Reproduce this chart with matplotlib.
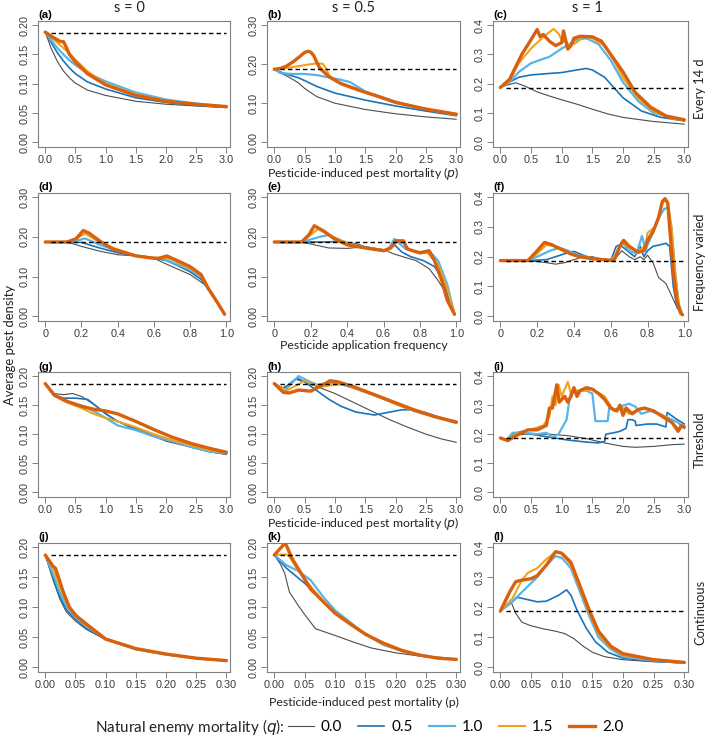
import matplotlib
matplotlib.use("Agg")
import matplotlib.pyplot as plt
from matplotlib.lines import Line2D

# ---------------- data ----------------
q_levels = ["0.0", "0.5", "1.0", "1.5", "2.0"]
baseline = 0.187
col_titles = ["s = 0", "s = 0.5", "s = 1"]
row_titles = ["Every 14 d", "Frequency varied", "Threshold", "Continuous"]
panel_tags = ["(a)", "(b)", "(c)", "(d)", "(e)", "(f)", "(g)", "(h)", "(i)", "(j)", "(k)", "(l)"]

# (a)
a_q00_x = [0, 0.1, 0.2, 0.3, 0.4, 0.5, 0.7, 1.0, 1.5, 2.0, 2.5, 3.0]
a_q00_y = [0.188, 0.160, 0.138, 0.122, 0.110, 0.101, 0.089, 0.080, 0.070, 0.065, 0.062, 0.059]
a_q05_x = [0, 0.1, 0.2, 0.3, 0.4, 0.5, 0.7, 1.0, 1.5, 2.0, 2.5, 3.0]
a_q05_y = [0.188, 0.170, 0.153, 0.139, 0.127, 0.117, 0.103, 0.091, 0.076, 0.068, 0.063, 0.060]
a_q10_x = [0, 0.1, 0.2, 0.3, 0.4, 0.5, 0.7, 1.0, 1.5, 2.0, 2.5, 3.0]
a_q10_y = [0.188, 0.174, 0.161, 0.150, 0.140, 0.132, 0.118, 0.104, 0.085, 0.073, 0.066, 0.061]
a_q15_x = [0, 0.1, 0.2, 0.3, 0.4, 0.5, 0.7, 1.0, 1.5, 2.0, 2.5, 3.0]
a_q15_y = [0.188, 0.179, 0.170, 0.161, 0.152, 0.141, 0.121, 0.100, 0.082, 0.071, 0.065, 0.060]
a_q20_x = [0, 0.1, 0.2, 0.25, 0.3, 0.35, 0.4, 0.5, 0.7, 1.0, 1.5, 2.0, 2.5, 3.0]
a_q20_y = [0.188, 0.181, 0.175, 0.172, 0.172, 0.162, 0.150, 0.137, 0.117, 0.098, 0.080, 0.070, 0.065, 0.061]

# (b)
b_q00_x = [0, 0.1, 0.25, 0.4, 0.5, 0.7, 1.0, 1.5, 2.0, 2.5, 3.0]
b_q00_y = [0.187, 0.178, 0.166, 0.152, 0.138, 0.117, 0.100, 0.084, 0.073, 0.065, 0.059]
b_q05_x = [0, 0.1, 0.25, 0.4, 0.5, 0.7, 1.0, 1.5, 2.0, 2.5, 3.0]
b_q05_y = [0.187, 0.180, 0.172, 0.165, 0.158, 0.143, 0.126, 0.108, 0.093, 0.080, 0.068]
b_q10_x = [0, 0.1, 0.3, 0.5, 0.7, 0.9, 1.1, 1.25, 1.5, 2.0, 2.5, 3.0]
b_q10_y = [0.187, 0.177, 0.175, 0.175, 0.172, 0.166, 0.160, 0.154, 0.130, 0.104, 0.085, 0.070]
b_q15_x = [0, 0.2, 0.4, 0.6, 0.7, 0.8, 0.85, 0.9, 1.0, 1.2, 1.5, 1.7, 2.0, 2.5, 3.0]
b_q15_y = [0.187, 0.190, 0.195, 0.200, 0.202, 0.201, 0.190, 0.172, 0.158, 0.146, 0.128, 0.118, 0.102, 0.085, 0.071]
b_q20_x = [0, 0.1, 0.2, 0.3, 0.4, 0.5, 0.55, 0.6, 0.65, 0.7, 0.75, 0.9, 1.1, 1.4, 1.7, 2.0, 2.5, 3.0]
b_q20_y = [0.187, 0.189, 0.195, 0.205, 0.217, 0.230, 0.233, 0.231, 0.222, 0.205, 0.190, 0.168, 0.150, 0.133, 0.118, 0.102, 0.085, 0.072]

# (c)
c_q00_x = [0, 0.1, 0.25, 0.4, 0.6, 0.8, 1.0, 1.25, 1.5, 1.75, 2.0, 2.5, 3.0]
c_q00_y = [0.187, 0.195, 0.203, 0.192, 0.172, 0.158, 0.145, 0.130, 0.113, 0.097, 0.085, 0.071, 0.062]
c_q05_x = [0, 0.1, 0.3, 0.5, 0.8, 1.0, 1.25, 1.4, 1.5, 1.7, 1.85, 2.0, 2.3, 2.6, 3.0]
c_q05_y = [0.187, 0.200, 0.222, 0.230, 0.235, 0.238, 0.247, 0.252, 0.247, 0.222, 0.187, 0.152, 0.107, 0.086, 0.073]
c_q10_x = [0, 0.15, 0.3, 0.5, 0.8, 1.0, 1.25, 1.4, 1.6, 1.8, 2.0, 2.25, 2.5, 3.0]
c_q10_y = [0.187, 0.205, 0.240, 0.270, 0.292, 0.320, 0.350, 0.355, 0.335, 0.280, 0.205, 0.140, 0.100, 0.075]
c_q15_x = [0, 0.15, 0.3, 0.5, 0.7, 0.87, 0.95, 1.0, 1.1, 1.2, 1.3, 1.35, 1.5, 1.7, 1.85, 2.0, 2.25, 2.5, 2.8, 3.0]
c_q15_y = [0.187, 0.210, 0.270, 0.320, 0.360, 0.387, 0.370, 0.350, 0.335, 0.335, 0.350, 0.362, 0.355, 0.330, 0.280, 0.220, 0.150, 0.105, 0.082, 0.075]
c_q20_x = [0, 0.15, 0.35, 0.5, 0.6, 0.65, 0.7, 0.8, 0.9, 1.0, 1.03, 1.1, 1.15, 1.2, 1.3, 1.5, 1.65, 1.8, 2.0, 2.2, 2.45, 2.7, 3.0]
c_q20_y = [0.187, 0.215, 0.300, 0.350, 0.385, 0.360, 0.368, 0.345, 0.330, 0.340, 0.380, 0.318, 0.330, 0.355, 0.362, 0.360, 0.345, 0.300, 0.240, 0.170, 0.120, 0.090, 0.077]

# (d)
d_q00_x = [0, 0.1, 0.15, 0.2, 0.3, 0.4, 0.5, 0.6, 0.7, 0.8, 0.88, 0.93, 0.97, 0.99]
d_q00_y = [0.187, 0.187, 0.183, 0.176, 0.164, 0.155, 0.152, 0.146, 0.125, 0.105, 0.080, 0.050, 0.020, 0.005]
d_q05_x = [0, 0.12, 0.2, 0.3, 0.4, 0.5, 0.6, 0.67, 0.72, 0.8, 0.86, 0.9, 0.95, 0.99]
d_q05_y = [0.187, 0.187, 0.186, 0.172, 0.160, 0.152, 0.147, 0.140, 0.130, 0.112, 0.093, 0.068, 0.035, 0.005]
d_q10_x = [0, 0.12, 0.17, 0.22, 0.3, 0.4, 0.5, 0.6, 0.65, 0.7, 0.8, 0.86, 0.9, 0.95, 0.99]
d_q10_y = [0.187, 0.187, 0.190, 0.196, 0.180, 0.165, 0.153, 0.147, 0.145, 0.136, 0.117, 0.100, 0.070, 0.035, 0.005]
d_q15_x = [0, 0.12, 0.17, 0.22, 0.3, 0.4, 0.5, 0.6, 0.65, 0.7, 0.8, 0.86, 0.9, 0.95, 0.99]
d_q15_y = [0.187, 0.187, 0.196, 0.208, 0.186, 0.168, 0.153, 0.147, 0.148, 0.143, 0.120, 0.104, 0.070, 0.035, 0.005]
d_q20_x = [0, 0.12, 0.17, 0.21, 0.24, 0.3, 0.37, 0.45, 0.5, 0.6, 0.63, 0.67, 0.73, 0.8, 0.86, 0.9, 0.95, 0.99]
d_q20_y = [0.187, 0.187, 0.195, 0.216, 0.210, 0.190, 0.170, 0.159, 0.152, 0.146, 0.146, 0.152, 0.140, 0.125, 0.105, 0.070, 0.035, 0.005]

# (e)
e_q00_x = [0, 0.15, 0.2, 0.3, 0.4, 0.5, 0.6, 0.65, 0.72, 0.78, 0.85, 0.9, 0.94, 0.97, 0.99]
e_q00_y = [0.187, 0.186, 0.182, 0.172, 0.171, 0.175, 0.168, 0.158, 0.148, 0.140, 0.120, 0.090, 0.060, 0.020, 0.003]
e_q05_x = [0, 0.25, 0.35, 0.45, 0.5, 0.6, 0.64, 0.66, 0.7, 0.75, 0.82, 0.88, 0.93, 0.96, 0.99]
e_q05_y = [0.187, 0.187, 0.188, 0.182, 0.175, 0.165, 0.175, 0.180, 0.162, 0.150, 0.140, 0.125, 0.090, 0.040, 0.005]
e_q10_x = [0, 0.15, 0.25, 0.3, 0.37, 0.45, 0.55, 0.62, 0.66, 0.72, 0.8, 0.85, 0.9, 0.95, 0.99]
e_q10_y = [0.187, 0.187, 0.200, 0.205, 0.190, 0.178, 0.170, 0.165, 0.195, 0.170, 0.160, 0.165, 0.140, 0.080, 0.005]
e_q15_x = [0, 0.15, 0.24, 0.32, 0.4, 0.5, 0.62, 0.67, 0.7, 0.74, 0.8, 0.84, 0.9, 0.95, 0.99]
e_q15_y = [0.187, 0.187, 0.220, 0.200, 0.185, 0.172, 0.165, 0.190, 0.190, 0.168, 0.158, 0.160, 0.130, 0.070, 0.005]
e_q20_x = [0, 0.15, 0.19, 0.22, 0.27, 0.33, 0.4, 0.5, 0.6, 0.64, 0.67, 0.71, 0.73, 0.76, 0.8, 0.85, 0.88, 0.92, 0.95, 0.99]
e_q20_y = [0.187, 0.187, 0.205, 0.228, 0.215, 0.195, 0.180, 0.172, 0.165, 0.172, 0.190, 0.190, 0.170, 0.165, 0.160, 0.165, 0.140, 0.090, 0.040, 0.005]

# (f)
f_q00_x = [0, 0.15, 0.25, 0.3, 0.35, 0.4, 0.45, 0.5, 0.55, 0.6, 0.62, 0.66, 0.7, 0.73, 0.76, 0.78, 0.8, 0.83, 0.86, 0.9, 0.93, 0.96, 0.99]
f_q00_y = [0.187, 0.187, 0.180, 0.175, 0.180, 0.190, 0.200, 0.200, 0.192, 0.187, 0.190, 0.220, 0.200, 0.190, 0.200, 0.190, 0.205, 0.180, 0.130, 0.110, 0.070, 0.030, 0.005]
f_q05_x = [0, 0.15, 0.25, 0.3, 0.35, 0.4, 0.45, 0.5, 0.6, 0.63, 0.65, 0.7, 0.73, 0.76, 0.78, 0.8, 0.83, 0.87, 0.9, 0.92, 0.94, 0.96, 0.99]
f_q05_y = [0.187, 0.187, 0.190, 0.200, 0.210, 0.218, 0.205, 0.195, 0.188, 0.235, 0.240, 0.215, 0.200, 0.235, 0.200, 0.220, 0.235, 0.240, 0.245, 0.235, 0.100, 0.030, 0.005]
f_q10_x = [0, 0.15, 0.2, 0.27, 0.32, 0.37, 0.42, 0.5, 0.6, 0.63, 0.66, 0.7, 0.74, 0.77, 0.79, 0.8, 0.83, 0.86, 0.89, 0.91, 0.93, 0.95, 0.97, 0.99]
f_q10_y = [0.187, 0.187, 0.200, 0.220, 0.230, 0.220, 0.205, 0.195, 0.188, 0.210, 0.250, 0.220, 0.210, 0.270, 0.220, 0.240, 0.280, 0.330, 0.360, 0.365, 0.300, 0.150, 0.040, 0.005]
f_q15_x = [0, 0.15, 0.2, 0.25, 0.3, 0.35, 0.4, 0.5, 0.6, 0.62, 0.66, 0.7, 0.75, 0.79, 0.8, 0.84, 0.87, 0.89, 0.91, 0.93, 0.95, 0.97, 0.99]
f_q15_y = [0.187, 0.187, 0.210, 0.240, 0.235, 0.220, 0.205, 0.195, 0.188, 0.200, 0.250, 0.230, 0.215, 0.240, 0.280, 0.300, 0.360, 0.390, 0.385, 0.300, 0.150, 0.040, 0.005]
f_q20_x = [0, 0.15, 0.2, 0.24, 0.28, 0.33, 0.38, 0.43, 0.5, 0.6, 0.62, 0.65, 0.67, 0.7, 0.75, 0.78, 0.8, 0.83, 0.86, 0.88, 0.895, 0.91, 0.92, 0.94, 0.96, 0.98, 0.99]
f_q20_y = [0.187, 0.187, 0.220, 0.248, 0.240, 0.225, 0.210, 0.200, 0.193, 0.188, 0.190, 0.235, 0.255, 0.235, 0.215, 0.220, 0.255, 0.285, 0.330, 0.385, 0.395, 0.380, 0.300, 0.150, 0.050, 0.010, 0.005]

# (g)
g_q00_x = [0, 0.15, 0.3, 0.45, 0.6, 0.75, 0.95, 1.15, 1.4, 1.7, 2.0, 2.4, 2.7, 3.0]
g_q00_y = [0.187, 0.170, 0.168, 0.170, 0.165, 0.155, 0.140, 0.125, 0.112, 0.100, 0.088, 0.078, 0.070, 0.065]
g_q05_x = [0, 0.15, 0.3, 0.5, 0.7, 0.85, 1.0, 1.2, 1.5, 1.8, 2.1, 2.45, 2.75, 3.0]
g_q05_y = [0.187, 0.168, 0.162, 0.162, 0.160, 0.148, 0.135, 0.122, 0.110, 0.098, 0.088, 0.078, 0.070, 0.066]
g_q10_x = [0, 0.15, 0.3, 0.5, 0.65, 0.8, 1.0, 1.2, 1.5, 1.8, 2.1, 2.45, 2.75, 3.0]
g_q10_y = [0.187, 0.168, 0.158, 0.152, 0.148, 0.140, 0.128, 0.115, 0.107, 0.096, 0.088, 0.077, 0.070, 0.067]
g_q15_x = [0, 0.15, 0.35, 0.6, 0.8, 1.0, 1.2, 1.5, 1.8, 2.1, 2.45, 2.75, 3.0]
g_q15_y = [0.187, 0.167, 0.155, 0.145, 0.135, 0.128, 0.122, 0.112, 0.100, 0.090, 0.080, 0.072, 0.068]
g_q20_x = [0, 0.15, 0.35, 0.6, 0.8, 1.0, 1.2, 1.5, 1.8, 2.1, 2.45, 2.75, 3.0]
g_q20_y = [0.187, 0.167, 0.157, 0.148, 0.143, 0.140, 0.135, 0.122, 0.108, 0.095, 0.083, 0.075, 0.069]

# (h)
h_q00_x = [0, 0.15, 0.3, 0.38, 0.5, 0.75, 1.0, 1.3, 1.6, 1.9, 2.2, 2.5, 2.75, 3.0]
h_q00_y = [0.187, 0.180, 0.190, 0.197, 0.190, 0.180, 0.170, 0.155, 0.140, 0.125, 0.112, 0.100, 0.092, 0.086]
h_q05_x = [0, 0.15, 0.35, 0.5, 0.7, 0.9, 1.1, 1.35, 1.65, 1.9, 2.1, 2.3, 2.5, 2.75, 3.0]
h_q05_y = [0.187, 0.178, 0.195, 0.190, 0.175, 0.160, 0.148, 0.138, 0.133, 0.138, 0.142, 0.142, 0.137, 0.128, 0.120]
h_q10_x = [0, 0.18, 0.4, 0.55, 0.7, 0.9, 1.1, 1.35, 1.7, 2.0, 2.3, 2.7, 3.0]
h_q10_y = [0.187, 0.176, 0.200, 0.192, 0.185, 0.188, 0.186, 0.178, 0.165, 0.152, 0.140, 0.128, 0.119]
h_q15_x = [0, 0.2, 0.35, 0.5, 0.65, 0.8, 1.0, 1.15, 1.35, 1.7, 2.0, 2.3, 2.65, 3.0]
h_q15_y = [0.187, 0.175, 0.183, 0.192, 0.185, 0.182, 0.185, 0.186, 0.178, 0.165, 0.152, 0.140, 0.130, 0.121]
h_q20_x = [0, 0.15, 0.25, 0.4, 0.6, 0.75, 0.92, 1.05, 1.3, 1.65, 2.0, 2.3, 2.65, 3.0]
h_q20_y = [0.187, 0.172, 0.171, 0.176, 0.174, 0.182, 0.192, 0.190, 0.182, 0.168, 0.154, 0.142, 0.130, 0.121]

# (i)
i_q00_x = [0, 0.1, 0.2, 0.4, 0.8, 1.1, 1.4, 1.7, 2.0, 2.2, 2.5, 2.8, 3.0]
i_q00_y = [0.187, 0.180, 0.195, 0.200, 0.200, 0.195, 0.185, 0.170, 0.158, 0.155, 0.158, 0.164, 0.166]
i_q05_x = [0, 0.1, 0.2, 0.35, 0.5, 0.8, 1.1, 1.4, 1.6, 1.7, 1.72, 1.85, 1.95, 2.05, 2.08, 2.15, 2.2, 2.21, 2.4, 2.55, 2.7, 2.72, 2.85, 3.0]
i_q05_y = [0.187, 0.180, 0.200, 0.210, 0.200, 0.190, 0.180, 0.173, 0.170, 0.175, 0.200, 0.205, 0.210, 0.220, 0.250, 0.250, 0.245, 0.230, 0.235, 0.235, 0.225, 0.275, 0.255, 0.235]
i_q10_x = [0, 0.1, 0.2, 0.4, 0.6, 0.75, 0.85, 0.95, 1.0, 1.08, 1.12, 1.15, 1.25, 1.4, 1.5, 1.55, 1.75, 1.78, 1.85, 1.95, 2.1, 2.2, 2.3, 2.45, 2.7, 2.9, 3.0]
i_q10_y = [0.187, 0.180, 0.205, 0.205, 0.200, 0.205, 0.190, 0.200, 0.220, 0.250, 0.310, 0.340, 0.350, 0.350, 0.340, 0.245, 0.245, 0.300, 0.280, 0.295, 0.305, 0.295, 0.270, 0.280, 0.260, 0.240, 0.220]
i_q15_x = [0, 0.1, 0.25, 0.4, 0.55, 0.7, 0.8, 0.85, 0.9, 0.95, 1.0, 1.1, 1.15, 1.3, 1.5, 1.7, 1.85, 2.0, 2.1, 2.3, 2.5, 2.7, 2.9, 3.0]
i_q15_y = [0.187, 0.180, 0.200, 0.210, 0.220, 0.230, 0.260, 0.330, 0.300, 0.370, 0.330, 0.380, 0.340, 0.350, 0.355, 0.330, 0.280, 0.290, 0.270, 0.290, 0.280, 0.260, 0.220, 0.225]
i_q20_x = [0, 0.12, 0.3, 0.45, 0.6, 0.75, 0.8, 0.85, 0.92, 0.96, 1.05, 1.1, 1.15, 1.2, 1.25, 1.3, 1.4, 1.5, 1.6, 1.7, 1.8, 1.9, 1.95, 2.0, 2.05, 2.15, 2.25, 2.35, 2.5, 2.65, 2.8, 2.9, 2.95, 3.0]
i_q20_y = [0.187, 0.178, 0.200, 0.215, 0.215, 0.230, 0.290, 0.290, 0.370, 0.310, 0.330, 0.310, 0.330, 0.360, 0.330, 0.350, 0.360, 0.355, 0.340, 0.320, 0.290, 0.280, 0.300, 0.265, 0.290, 0.270, 0.285, 0.290, 0.280, 0.260, 0.240, 0.210, 0.230, 0.225]

# (j)
j_q00_x = [0, 0.013, 0.024, 0.035, 0.05, 0.068, 0.1, 0.15, 0.2, 0.25, 0.3]
j_q00_y = [0.187, 0.145, 0.114, 0.092, 0.077, 0.063, 0.046, 0.030, 0.021, 0.015, 0.011]
j_q05_x = [0, 0.013, 0.024, 0.035, 0.05, 0.068, 0.1, 0.15, 0.2, 0.25, 0.3]
j_q05_y = [0.187, 0.150, 0.118, 0.096, 0.080, 0.065, 0.046, 0.030, 0.021, 0.015, 0.011]
j_q10_x = [0, 0.013, 0.024, 0.035, 0.05, 0.068, 0.1, 0.15, 0.2, 0.25, 0.3]
j_q10_y = [0.187, 0.155, 0.125, 0.102, 0.083, 0.068, 0.047, 0.030, 0.021, 0.015, 0.011]
j_q15_x = [0, 0.013, 0.024, 0.035, 0.05, 0.068, 0.1, 0.15, 0.2, 0.25, 0.3]
j_q15_y = [0.187, 0.165, 0.135, 0.108, 0.085, 0.070, 0.047, 0.030, 0.021, 0.015, 0.011]
j_q20_x = [0, 0.013, 0.017, 0.03, 0.04, 0.051, 0.068, 0.1, 0.15, 0.2, 0.25, 0.3]
j_q20_y = [0.187, 0.168, 0.165, 0.125, 0.100, 0.086, 0.072, 0.047, 0.031, 0.022, 0.015, 0.011]

# (k)
k_q00_x = [0, 0.01, 0.017, 0.025, 0.04, 0.05, 0.068, 0.1, 0.13, 0.16, 0.2, 0.25, 0.3]
k_q00_y = [0.187, 0.172, 0.157, 0.125, 0.102, 0.088, 0.064, 0.053, 0.042, 0.032, 0.024, 0.017, 0.013]
k_q05_x = [0, 0.02, 0.05, 0.07, 0.09, 0.11, 0.14, 0.17, 0.2, 0.25, 0.3]
k_q05_y = [0.187, 0.165, 0.140, 0.120, 0.100, 0.085, 0.063, 0.044, 0.030, 0.018, 0.013]
k_q10_x = [0, 0.02, 0.04, 0.06, 0.08, 0.1, 0.125, 0.15, 0.18, 0.22, 0.26, 0.3]
k_q10_y = [0.187, 0.170, 0.160, 0.145, 0.118, 0.095, 0.075, 0.055, 0.037, 0.024, 0.017, 0.013]
k_q15_x = [0, 0.02, 0.025, 0.04, 0.06, 0.08, 0.1, 0.125, 0.15, 0.18, 0.22, 0.26, 0.3]
k_q15_y = [0.187, 0.188, 0.184, 0.160, 0.135, 0.110, 0.091, 0.073, 0.055, 0.038, 0.024, 0.017, 0.013]
k_q20_x = [0, 0.01, 0.018, 0.03, 0.045, 0.06, 0.08, 0.1, 0.125, 0.15, 0.18, 0.21, 0.24, 0.27, 0.3]
k_q20_y = [0.187, 0.198, 0.207, 0.180, 0.155, 0.130, 0.110, 0.090, 0.072, 0.055, 0.040, 0.028, 0.020, 0.015, 0.013]

# (l)
l_q00_x = [0, 0.018, 0.025, 0.035, 0.05, 0.07, 0.09, 0.105, 0.12, 0.135, 0.15, 0.17, 0.2, 0.25, 0.3]
l_q00_y = [0.187, 0.215, 0.180, 0.150, 0.138, 0.128, 0.120, 0.112, 0.095, 0.070, 0.050, 0.035, 0.025, 0.018, 0.014]
l_q05_x = [0, 0.015, 0.028, 0.045, 0.06, 0.075, 0.095, 0.108, 0.115, 0.125, 0.14, 0.155, 0.175, 0.2, 0.25, 0.3]
l_q05_y = [0.187, 0.210, 0.233, 0.225, 0.218, 0.220, 0.240, 0.258, 0.240, 0.190, 0.130, 0.085, 0.050, 0.030, 0.020, 0.014]
l_q10_x = [0, 0.02, 0.04, 0.06, 0.075, 0.09, 0.1, 0.115, 0.13, 0.145, 0.16, 0.18, 0.2, 0.25, 0.3]
l_q10_y = [0.187, 0.220, 0.260, 0.300, 0.340, 0.370, 0.365, 0.330, 0.250, 0.170, 0.100, 0.060, 0.035, 0.022, 0.014]
l_q15_x = [0, 0.02, 0.035, 0.045, 0.06, 0.075, 0.09, 0.1, 0.115, 0.13, 0.145, 0.16, 0.18, 0.2, 0.25, 0.3]
l_q15_y = [0.187, 0.230, 0.290, 0.315, 0.330, 0.360, 0.385, 0.380, 0.340, 0.260, 0.180, 0.110, 0.065, 0.040, 0.024, 0.015]
l_q20_x = [0, 0.015, 0.025, 0.035, 0.05, 0.06, 0.075, 0.09, 0.1, 0.115, 0.13, 0.145, 0.16, 0.18, 0.2, 0.25, 0.3]
l_q20_y = [0.187, 0.250, 0.285, 0.290, 0.295, 0.305, 0.340, 0.385, 0.380, 0.350, 0.270, 0.190, 0.120, 0.070, 0.045, 0.025, 0.016]

series_by_panel = [
    [(a_q00_x, a_q00_y), (a_q05_x, a_q05_y), (a_q10_x, a_q10_y), (a_q15_x, a_q15_y), (a_q20_x, a_q20_y)],
    [(b_q00_x, b_q00_y), (b_q05_x, b_q05_y), (b_q10_x, b_q10_y), (b_q15_x, b_q15_y), (b_q20_x, b_q20_y)],
    [(c_q00_x, c_q00_y), (c_q05_x, c_q05_y), (c_q10_x, c_q10_y), (c_q15_x, c_q15_y), (c_q20_x, c_q20_y)],
    [(d_q00_x, d_q00_y), (d_q05_x, d_q05_y), (d_q10_x, d_q10_y), (d_q15_x, d_q15_y), (d_q20_x, d_q20_y)],
    [(e_q00_x, e_q00_y), (e_q05_x, e_q05_y), (e_q10_x, e_q10_y), (e_q15_x, e_q15_y), (e_q20_x, e_q20_y)],
    [(f_q00_x, f_q00_y), (f_q05_x, f_q05_y), (f_q10_x, f_q10_y), (f_q15_x, f_q15_y), (f_q20_x, f_q20_y)],
    [(g_q00_x, g_q00_y), (g_q05_x, g_q05_y), (g_q10_x, g_q10_y), (g_q15_x, g_q15_y), (g_q20_x, g_q20_y)],
    [(h_q00_x, h_q00_y), (h_q05_x, h_q05_y), (h_q10_x, h_q10_y), (h_q15_x, h_q15_y), (h_q20_x, h_q20_y)],
    [(i_q00_x, i_q00_y), (i_q05_x, i_q05_y), (i_q10_x, i_q10_y), (i_q15_x, i_q15_y), (i_q20_x, i_q20_y)],
    [(j_q00_x, j_q00_y), (j_q05_x, j_q05_y), (j_q10_x, j_q10_y), (j_q15_x, j_q15_y), (j_q20_x, j_q20_y)],
    [(k_q00_x, k_q00_y), (k_q05_x, k_q05_y), (k_q10_x, k_q10_y), (k_q15_x, k_q15_y), (k_q20_x, k_q20_y)],
    [(l_q00_x, l_q00_y), (l_q05_x, l_q05_y), (l_q10_x, l_q10_y), (l_q15_x, l_q15_y), (l_q20_x, l_q20_y)],
]

# axis tick values per panel
yticks_02 = [0.00, 0.05, 0.10, 0.15, 0.20]
yticks_03 = [0.00, 0.10, 0.20, 0.30]
yticks_04 = [0.0, 0.1, 0.2, 0.3, 0.4]
xticks_p = [0.0, 0.5, 1.0, 1.5, 2.0, 2.5, 3.0]
xticks_f = [0, 0.2, 0.4, 0.6, 0.8, 1.0]
xticks_c = [0.00, 0.05, 0.10, 0.15, 0.20, 0.25, 0.30]
xtick_labels_f = ["0", "0.2", "0.4", "0.6", "0.8", "1.0"]

# ---------------- style ----------------
line_colors = ["#4d4d4d", "#1a74bb", "#56b4e9", "#efa31c", "#d9600c"]
line_widths = [0.8, 1.2, 1.6, 1.5, 2.4]
FRAME = "#808080"
TICKTXT = "#3a3a3a"
TXT = "#222222"
LABEL_FONT = ["Lato", "DejaVu Sans"]
TICK_FONT = ["Liberation Sans", "DejaVu Sans"]

W, H = 709, 736
fig = plt.figure(figsize=(W / 100, H / 100), dpi=100)

col_l = [38, 267, 493]
col_r = [230, 460, 688]
row_t = [21, 193, 372, 543]
row_b = [147, 321, 497, 672]

panel_cfg = []
for r in range(4):
    for c in range(3):
        if c == 2:
            yt = yticks_04
            yfmt = "{:.1f}"
        elif (r, c) in [(0, 0), (2, 0), (2, 1), (3, 0), (3, 1)]:
            yt = yticks_02
            yfmt = "{:.2f}"
        else:
            yt = yticks_03
            yfmt = "{:.2f}"
        if r == 1:
            xt = xticks_f
            xl = xtick_labels_f
        elif r == 3:
            xt = xticks_c
            xl = ["{:.2f}".format(v) for v in xt]
        else:
            xt = xticks_p
            xl = ["{:.1f}".format(v) for v in xt]
        panel_cfg.append((r, c, yt, yfmt, xt, xl))

for idx, (r, c, yt, yfmt, xt, xl) in enumerate(panel_cfg):
    left = col_l[c] / W
    bottom = 1 - row_b[r] / H
    width = (col_r[c] - col_l[c]) / W
    height = (row_b[r] - row_t[r]) / H
    ax = fig.add_axes([left, bottom, width, height])
    xmax = xt[-1]
    ymax = yt[-1]
    for k, (xs, ys) in enumerate(series_by_panel[idx]):
        ax.plot(xs, ys, color=line_colors[k], lw=line_widths[k],
                solid_joinstyle="round", solid_capstyle="round", zorder=2 + k)
    ax.plot([xmax * 0.03, xmax], [baseline, baseline], color="black",
            lw=1.0, ls=(0, (3.2, 2.2)), zorder=10)
    ax.set_xlim(-0.04 * xmax, 1.02 * xmax)
    ax.set_ylim(-0.04 * ymax, 1.035 * ymax)
    ax.set_xticks(xt)
    ax.set_xticklabels(xl, fontfamily=TICK_FONT)
    ax.set_yticks(yt)
    ax.set_yticklabels([yfmt.format(v) for v in yt], rotation=90, va="center",
                       fontfamily=TICK_FONT)
    ax.tick_params(direction="out", length=4, width=0.7, color=FRAME,
                   labelcolor=TICKTXT, labelsize=7.8, pad=2)
    for sp in ax.spines.values():
        sp.set_color(FRAME)
        sp.set_linewidth(0.8)
    ax.text(0.0, 1.004, panel_tags[idx], transform=ax.transAxes, ha="left",
            va="bottom", fontsize=8.2, fontweight="bold", fontfamily=TICK_FONT)

# column titles
for c, (t, xc) in enumerate(zip(col_titles, [129, 353, 587])):
    fig.text(xc / W, 1 - 8 / H, t, ha="center", va="center", fontsize=10.5,
             fontfamily=LABEL_FONT, color=TXT)

# row titles (right)
for r, t in enumerate(row_titles):
    yc = (row_t[r] + row_b[r]) / 2 + 5
    fig.text(700 / W, 1 - yc / H, t, ha="center", va="center", rotation=90,
             fontsize=9.3, fontfamily=LABEL_FONT, color=TXT)

# x-axis labels
xc2 = (col_l[1] + col_r[1]) / 2
XL_SIZE = 8.8
fig.text(xc2 / W, 1 - 173 / H, "Pesticide-induced pest mortality ($\\it{p}$)",
         ha="center", va="center", fontsize=XL_SIZE, fontfamily=LABEL_FONT, color=TXT)
fig.text(xc2 / W, 1 - 346 / H, "Pesticide application frequency",
         ha="center", va="center", fontsize=XL_SIZE, fontfamily=LABEL_FONT, color=TXT)
fig.text(xc2 / W, 1 - 523 / H, "Pesticide-induced pest mortality ($\\it{p}$)",
         ha="center", va="center", fontsize=XL_SIZE, fontfamily=LABEL_FONT, color=TXT)
fig.text(xc2 / W, 1 - 702 / H, "Pesticide-induced pest mortality (p)",
         ha="center", va="center", fontsize=XL_SIZE, fontfamily=LABEL_FONT, color=TXT)

# y-axis label
fig.text(10 / W, 1 - 345 / H, "Average pest density", ha="center", va="center",
         rotation=90, fontsize=9.4, fontfamily=LABEL_FONT, color=TXT)

# legend
LEG_Y = 1 - 727 / H
fig.text(285 / W, LEG_Y, "Natural enemy mortality ($\\it{q}$):", ha="right",
         va="center", fontsize=11, fontfamily=LABEL_FONT, color=TXT)
handles = [Line2D([0], [0], color=line_colors[k], lw=line_widths[k]) for k in range(5)]
fig.legend(handles, q_levels, loc="center left", bbox_to_anchor=(288 / W, LEG_Y),
           ncol=5, frameon=False, borderpad=0, borderaxespad=0, handlelength=1.7,
           handletextpad=0.45, columnspacing=1.05,
           prop={"family": LABEL_FONT, "size": 11})

fig.savefig("out.png", dpi=100)
